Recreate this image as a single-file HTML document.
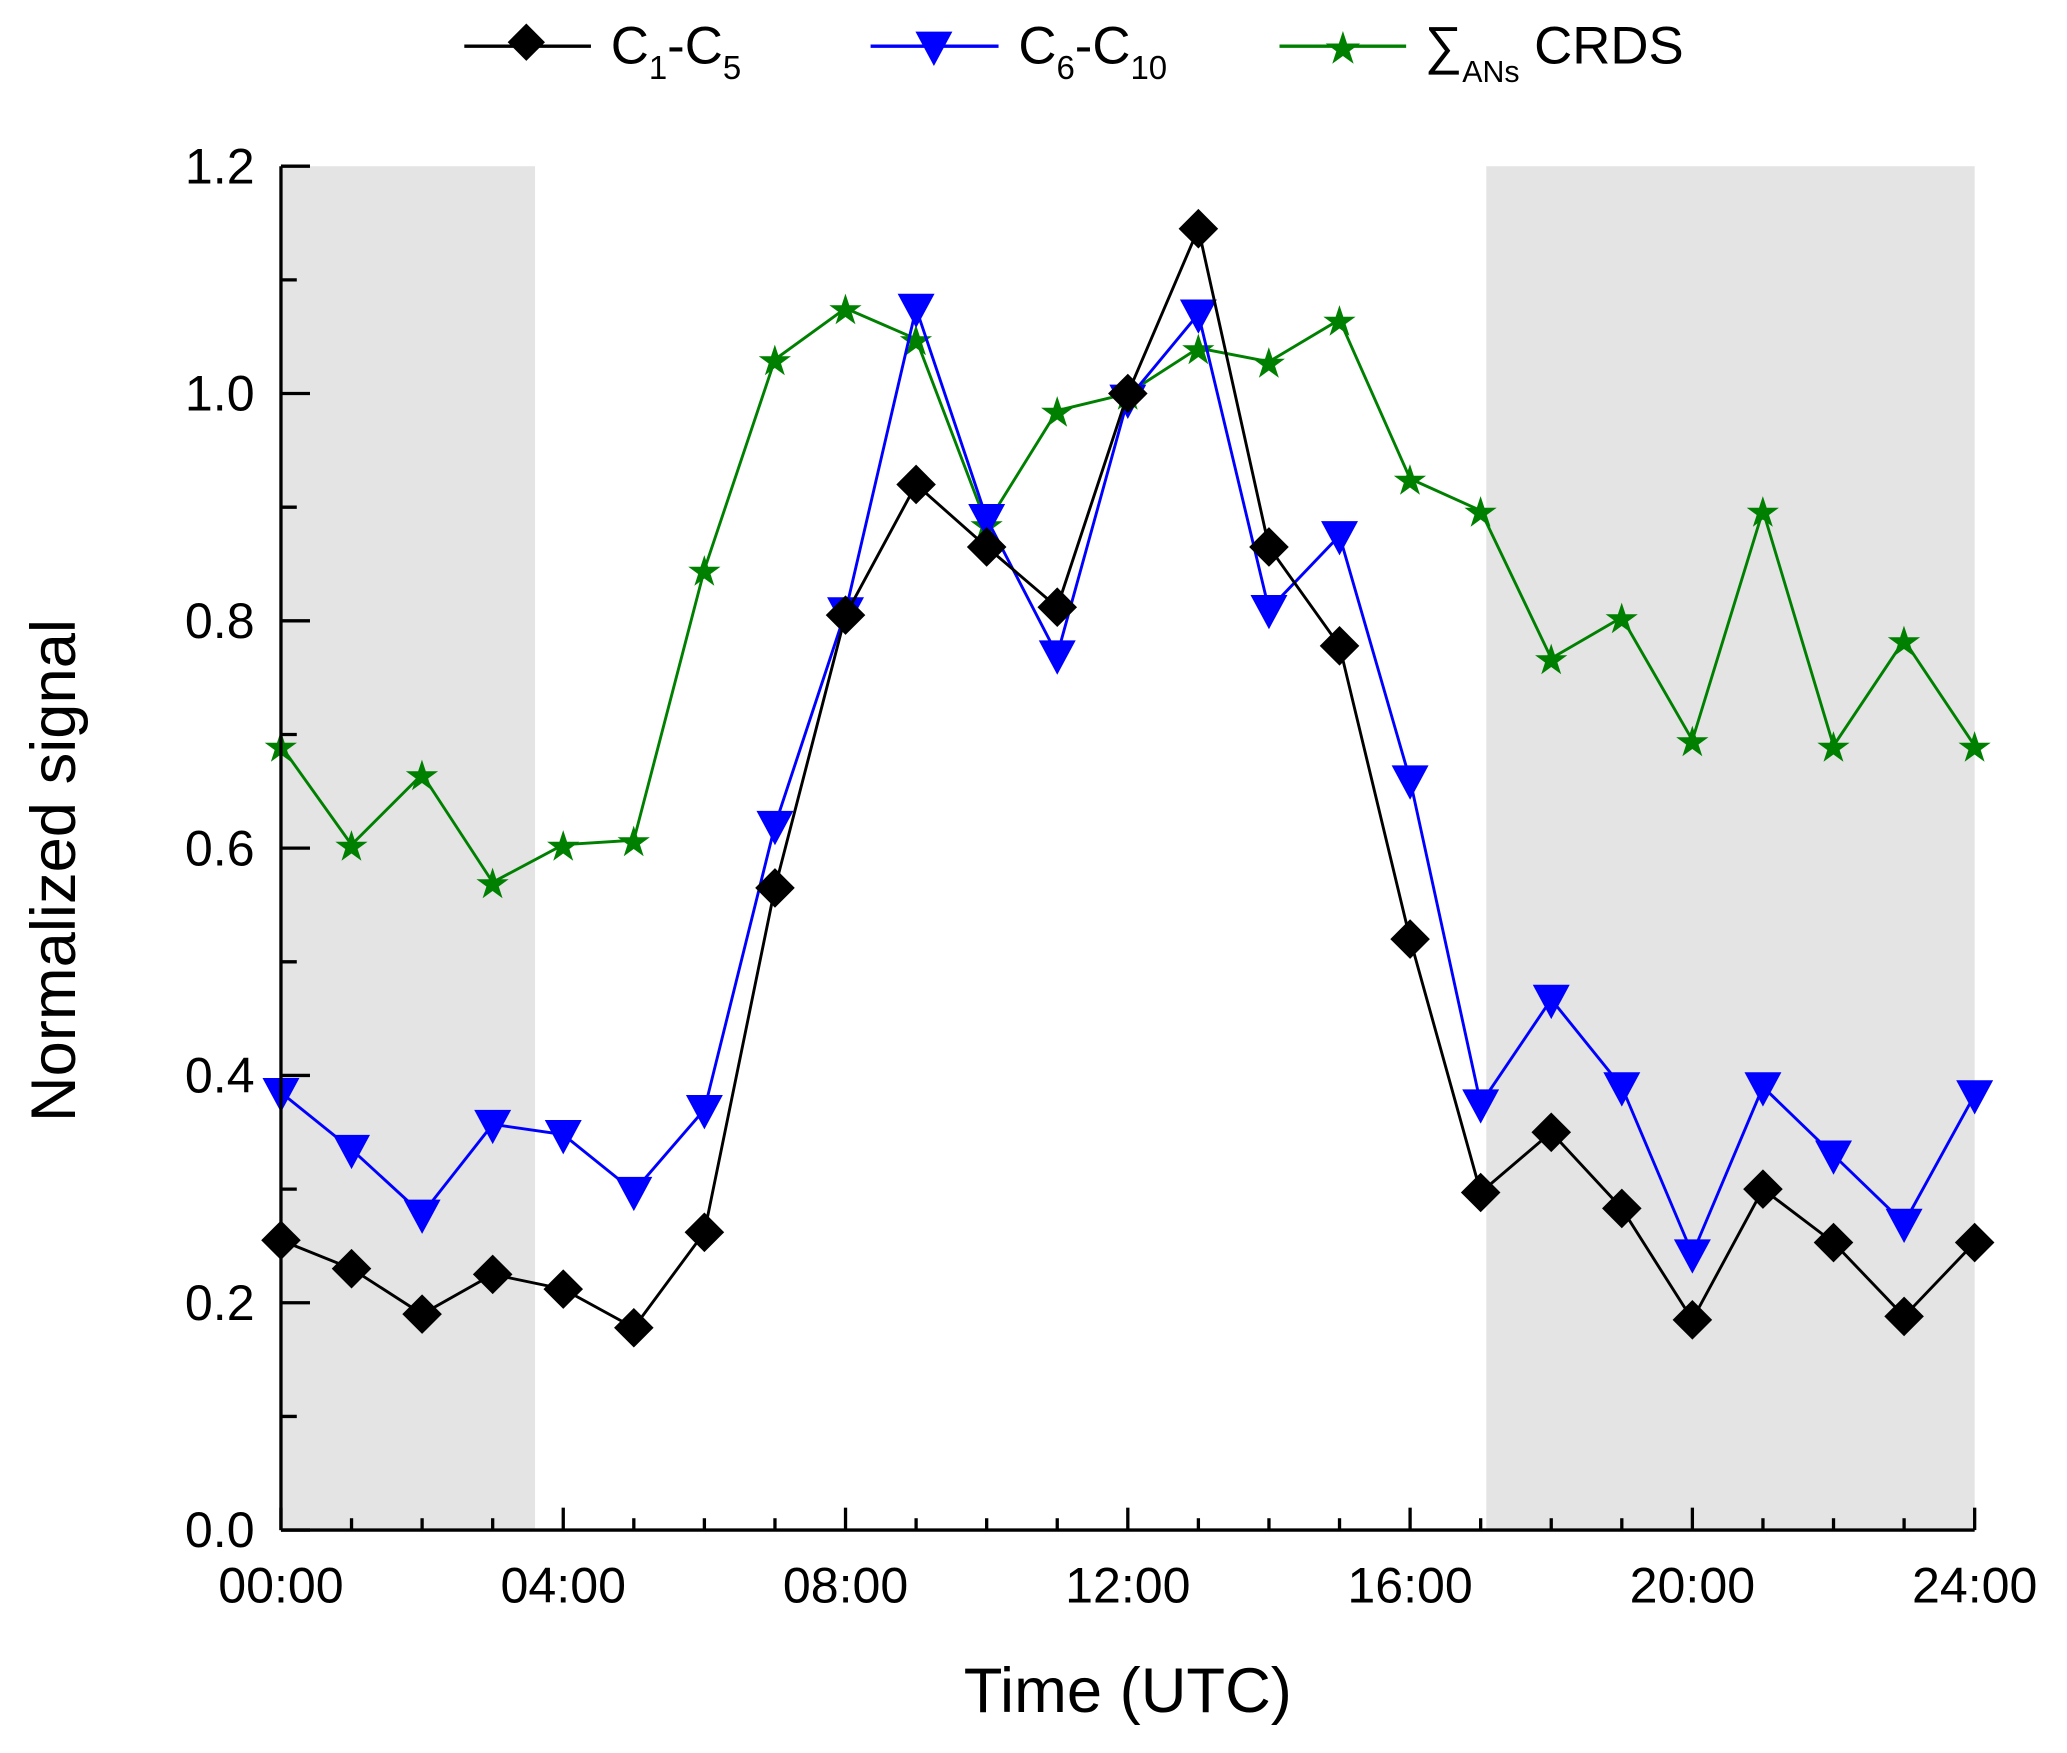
<!DOCTYPE html>
<html><head><meta charset="utf-8"><style>
html,body{margin:0;padding:0;background:#fff}
svg{display:block;font-family:"Liberation Sans",Arial,sans-serif}
</style></head><body>
<svg id="chart" width="2067" height="1753" viewBox="0 0 1567 1329" preserveAspectRatio="none" xmlns="http://www.w3.org/2000/svg">
<g id="shade"></g>
<g id="series"></g>
<g id="axes"></g>
<g id="legend">
  <line x1="352" y1="35" x2="448" y2="35" stroke="#000" stroke-width="2.5"/>
  <rect x="389" y="22" width="20" height="20" fill="#000" transform="rotate(45 399 32)"/>
  <text x="463" y="48" font-size="40">C<tspan font-size="25" dy="12">1</tspan><tspan dy="-12">-C</tspan><tspan font-size="25" dy="12">5</tspan></text>
  <line x1="660" y1="35" x2="757" y2="35" stroke="#00f" stroke-width="2.5"/>
  <polygon points="694,24 722,24 708,50" fill="#00f"/>
  <text x="772" y="48" font-size="40">C<tspan font-size="25" dy="12">6</tspan><tspan dy="-12">-C</tspan><tspan font-size="25" dy="12">10</tspan></text>
  <line x1="970" y1="35" x2="1066" y2="35" stroke="#008000" stroke-width="2.5"/>
  <text x="1018" y="48" font-size="34" fill="#008000" text-anchor="middle">★</text>
  <text x="1080" y="48" font-size="40">∑<tspan font-size="23" dy="14">ANs</tspan><tspan dy="-14"> CRDS</tspan></text>
</g>
</svg>
<script>
const hours = [0,1,2,3,4,5,6,7,8,9,10,11,12,13,14,15,16,17,18,19,20,21,22,23,24];
const c1c5 = [0.255,0.23,0.19,0.225,0.212,0.178,0.262,0.565,0.805,0.92,0.865,0.812,1.0,1.145,0.865,0.778,0.52,0.297,0.35,0.283,0.185,0.3,0.253,0.188,0.253];
const c6c10 = [0.385,0.335,0.278,0.357,0.348,0.298,0.37,0.62,0.808,1.075,0.89,0.77,0.995,1.07,0.81,0.875,0.66,0.375,0.467,0.39,0.243,0.39,0.33,0.27,0.383];
const ansCrds = [0.69,0.603,0.665,0.57,0.603,0.607,0.845,1.03,1.075,1.048,0.885,0.985,1.0,1.04,1.028,1.065,0.925,0.897,0.767,0.803,0.695,0.897,0.69,0.783,0.69];
const xTickHours = [0,4,8,12,16,20,24];
const xTickLabels = ["00:00","04:00","08:00","12:00","16:00","20:00","24:00"];
const yTicks = [0,0.2,0.4,0.6,0.8,1.0,1.2];
const shadeRanges = [[0,3.6],[17.08,24]];

const L=213,R=1497,T=126,B=1160;
const sx=h=>L+(R-L)*h/24;
const sy=v=>B-(B-T)*v/1.2;
const NS="http://www.w3.org/2000/svg";
function mk(tag,attrs,parent){const e=document.createElementNS(NS,tag);for(const k in attrs)e.setAttribute(k,attrs[k]);parent.appendChild(e);return e;}
const shade=document.getElementById('shade'),series=document.getElementById('series'),axes=document.getElementById('axes');

shadeRanges.forEach(r=>{
  const e=mk('rect',{x:sx(r[0]),y:T,width:sx(r[1])-sx(r[0]),height:B-T,fill:'#e4e4e4'},shade);
  
  
});

function drawSeries(vals,color,name,marker){
  const g=mk('g',{},series);
  
  
  const pl=mk('polyline',{points:vals.map((v,i)=>sx(hours[i])+','+sy(v)).join(' '),fill:'none',stroke:color,'stroke-width':2.2},g);
  
  
  vals.forEach((v,i)=>{
    const x=sx(hours[i]),y=sy(v);let m;
    if(marker==='diamond') m=mk('polygon',{points:`${x},${y-15} ${x+15},${y} ${x},${y+15} ${x-15},${y}`,fill:color},g);
    else if(marker==='tri') m=mk('polygon',{points:`${x-14},${y-11} ${x+14},${y-11} ${x},${y+15}`,fill:color},g);
    else {m=mk('text',{x:x,y:y+12,'font-size':32,fill:color,'text-anchor':'middle'},g);m.textContent='★';}
    
    
  });
}
drawSeries(ansCrds,'#008000','series-ans-crds','star');
drawSeries(c6c10,'#0000ff','series-c6-c10','tri');
drawSeries(c1c5,'#000000','series-c1-c5','diamond');

const xa=mk('line',{x1:L,y1:B,x2:R,y2:B,stroke:'#000','stroke-width':2.5},axes);


const ya=mk('line',{x1:L,y1:T,x2:L,y2:B,stroke:'#000','stroke-width':2.5},axes);


for(let h=0;h<=24;h++){mk('line',{x1:sx(h),y1:B,x2:sx(h),y2:B-(h%4===0?17:9),stroke:'#000','stroke-width':2.5},axes);}
for(let k=0;k<=12;k++){const v=k*0.1;mk('line',{x1:L,y1:sy(v),x2:L+(k%2===0?22:12),y2:sy(v),stroke:'#000','stroke-width':2.5},axes);}
xTickHours.forEach((h,i)=>{
  const t=mk('text',{x:sx(h),y:B+55,'font-size':38,'text-anchor':'middle'},axes);t.textContent=xTickLabels[i];
  
  
});
yTicks.forEach(v=>{
  const t=mk('text',{x:L-20,y:sy(v)+13,'font-size':38,'text-anchor':'end'},axes);t.textContent=v.toFixed(1);
  
  
});
const xt=mk('text',{x:855,y:1298,'font-size':48,'text-anchor':'middle'},axes);xt.textContent='Time (UTC)';


const yt=mk('text',{x:57,y:660,'font-size':48,'text-anchor':'middle',transform:'rotate(-90 57 660)'},axes);yt.textContent='Normalized signal';


</script>
</body></html>
